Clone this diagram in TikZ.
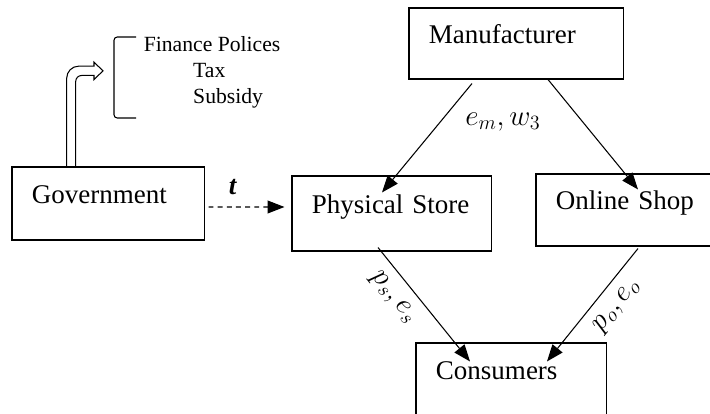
\documentclass[tikz,border=0pt]{standalone}
\usepackage{fontspec}
\setmainfont{Liberation Serif}
\usetikzlibrary{arrows.meta,calc}

\begin{document}
\begin{tikzpicture}[x=0.025cm,y=0.025cm,line width=0.75pt,font=\fontsize{19.2}{23}\selectfont,
		box/.style={draw,line width=0.75pt,align=left,inner xsep=0.5cm,inner ysep=0pt,text height=0.35cm,text depth=0.35cm},
		tip/.style={-{Triangle[length=0.42cm,width=0.32cm]}},
		small/.style={anchor=base west,inner sep=0pt,font=\fontsize{15.4}{18}\selectfont}]
	\useasboundingbox (0,0) rectangle (710,414);
	\fill[color=white] (0,0) rectangle (710,414);
	\clip (0,0) rectangle (710,414);
	% boxes
	\node[box,text width=3.8cm,minimum height=1.825cm] (gov) at (108,210.5) {Government};
	\node[box,text width=3.975cm,minimum height=1.875cm] (phys) at (391.5,200.5) {Physical Store};
	\node[box,text width=3.8cm,minimum height=1.8cm] (online) at (632,204) {Online Shop};
	\node[box,text width=4.35cm,minimum height=1.775cm] (man) at (516,370.5) {Manufacturer};
	\node[box,text width=3.75cm,minimum height=1.825cm] (cons) at (511,34.5) {Consumers};
	% policies
	\node[small] (fin) at (143.3,362.3) {Finance Polices};
	\node[small] (tax) at (192.7,336.3) {Tax};
	\node[small] (sub) at (192.7,310.7) {Subsidy};
	\draw[rounded corners=0.08cm] (136,377) -- (114,377) -- (114,296) -- (136,296);
	\draw ($(gov.north)+(-41.3,0)$) -- ++(0,88.3) arc[start angle=180,end angle=90,radius=12] -- ++(15.3,0) -- ++(0,4) -- ++(9,-8.7) -- ++(-9,-8.7) -- ++(0,4.1) -- ++(-12.3,0) arc[start angle=90,end angle=180,radius=6] -- ++(0,-85);
	% flows
	\draw[tip,dash pattern=on 3.5pt off 3pt] ($(gov.east)+(4,-3.5)$) -- node[pos=.32,above=5pt] (tlab) {\textbf{\textit{t}}} ($(phys.west)+(-7,6.5)$);
	\draw[tip] ($(man.south)+(-44,-4)$) -- node[pos=.35,right=14pt] (emlab) {$e_m, w_3$} ($(phys.north)+(-9.5,-17)$);
	\draw[tip] ($(man.south)+(32,0)$) -- ($(online.north)+(6,-16)$);
	\draw[tip] ($(phys.south)+(-13.5,4)$) -- node[pos=.33,sloped,below=4pt] (pslab) {$p_s, e_s$} ($(cons.north)+(-41,-19)$);
	\draw[tip] ($(online.south)+(6,-2)$) -- node[pos=.4,sloped,below=4pt] (polab) {$p_o, e_o$} ($(cons.north)+(36,-19)$);
\end{tikzpicture}
\end{document}
